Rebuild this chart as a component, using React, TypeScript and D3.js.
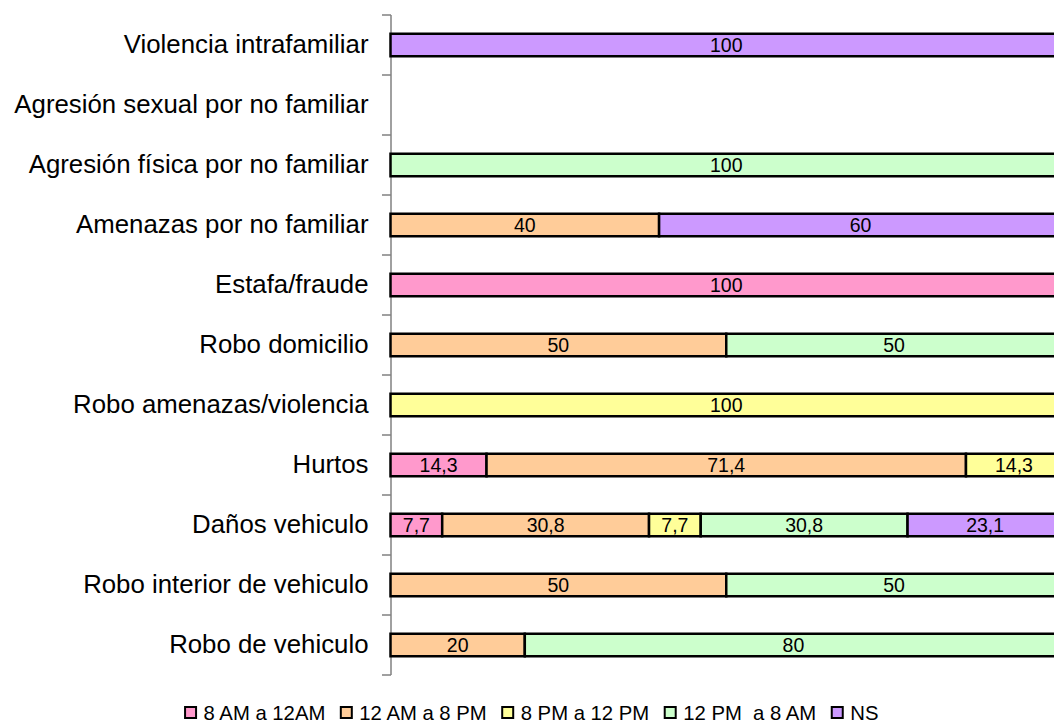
import React, { useEffect, useRef } from "react";
import * as d3 from "d3";

const categories = [
  "Violencia intrafamiliar",
  "Agresión sexual por no familiar",
  "Agresión física por no familiar",
  "Amenazas por no familiar",
  "Estafa/fraude",
  "Robo domicilio",
  "Robo amenazas/violencia",
  "Hurtos",
  "Daños vehiculo",
  "Robo interior de vehiculo",
  "Robo de vehiculo",
];

const seriesNames = ["8 AM a 12AM", "12 AM a 8 PM", "8 PM a 12 PM", "12 PM  a 8 AM", "NS"];
const seriesColors = ["#FF99CC", "#FFCC99", "#FFFF99", "#CCFFCC", "#CC99FF"];

const s8amTo12am = [0, 0, 0, 0, 100, 0, 0, 14.3, 7.7, 0, 0];
const s12amTo8pm = [0, 0, 0, 40, 0, 50, 0, 71.4, 30.8, 50, 20];
const s8pmTo12pm = [0, 0, 0, 0, 0, 0, 100, 14.3, 7.7, 0, 0];
const s12pmTo8am = [0, 0, 100, 0, 0, 50, 0, 0, 30.8, 50, 80];
const sNS = [100, 0, 0, 60, 0, 0, 0, 0, 23.1, 0, 0];

const seriesValues = [s8amTo12am, s12amTo8pm, s8pmTo12pm, s12pmTo8am, sNS];

const W = 1054;
const H = 722;

export default function App() {
  const ref = useRef<SVGSVGElement | null>(null);

  useEffect(() => {
    const svg = d3.select(ref.current);
    svg.selectAll("*").remove();
    const font = "'Liberation Sans', Arial, sans-serif";

    const x = d3.scaleLinear().domain([0, 100]).range([390.5, 1062]);
    const y = d3.scaleBand<string>().domain(categories).range([15, 675]).padding(0);
    const barH = 22.5;

    const rows = categories.map((c, i) => {
      const o: any = { cat: c };
      seriesNames.forEach((s, k) => (o[s] = seriesValues[k][i]));
      return o;
    });
    const stack = d3.stack<any>().keys(seriesNames)(rows);

    // axis line + ticks
    const axisColor = "#808080";
    svg.append("line").attr("x1", 391).attr("x2", 391).attr("y1", 15).attr("y2", 675)
      .attr("stroke", axisColor).attr("stroke-width", 1.5);
    const tickYs = categories.map((c) => y(c)!).concat([675]);
    svg.selectAll("line.tick").data(tickYs).enter().append("line")
      .attr("x1", 382).attr("x2", 391).attr("y1", (d) => d).attr("y2", (d) => d)
      .attr("stroke", axisColor).attr("stroke-width", 1.5);

    // category labels
    svg.selectAll("text.cat").data(categories).enter().append("text")
      .attr("x", 368.5).attr("y", (c) => y(c)! + y.bandwidth() / 2 + 8)
      .attr("text-anchor", "end").attr("font-family", font).attr("font-size", 25.8)
      .attr("fill", "#000").text((c) => c);

    // bars
    stack.forEach((layer, k) => {
      const g = svg.append("g");
      layer.forEach((seg, i) => {
        const v = seg[1] - seg[0];
        if (v <= 0) return;
        const cy = y(categories[i])! + y.bandwidth() / 2;
        g.append("rect")
          .attr("x", x(seg[0])).attr("y", cy - barH / 2)
          .attr("width", x(seg[1]) - x(seg[0])).attr("height", barH)
          .attr("fill", seriesColors[k]).attr("stroke", "#000").attr("stroke-width", 2.5);
        g.append("text")
          .attr("x", (x(seg[0]) + x(seg[1])) / 2).attr("y", cy + 7)
          .attr("text-anchor", "middle").attr("font-family", font).attr("font-size", 19.5)
          .attr("fill", "#000").text(String(v.toFixed(1)).replace(/\.0$/, "").replace(".", ","));
      });
    });

    // legend
    const lg = svg.append("g");
    const items = seriesNames.map((name, k) => {
      const gi = lg.append("g");
      gi.append("rect").attr("x", 0.5).attr("y", 707).attr("width", 11).attr("height", 11)
        .attr("fill", seriesColors[k]).attr("stroke", "#000").attr("stroke-width", 2);
      const t = gi.append("text").attr("x", 19).attr("y", 719.5)
        .attr("font-family", font).attr("font-size", 20.3).attr("fill", "#000")
        .style("white-space", "pre").text(name);
      const w = (t.node() as SVGTextElement).getComputedTextLength();
      return { gi, w: 19 + w };
    });
    const gap = 15;
    const total = d3.sum(items, (d) => d.w) + gap * (items.length - 1);
    let cx = 531.5 - total / 2;
    items.forEach((it) => {
      it.gi.attr("transform", `translate(${cx},0)`);
      cx += it.w + gap;
    });
  }, []);

  return (
    <svg
      ref={ref}
      width={W}
      height={H}
      style={{ position: "absolute", left: 0, top: 0, background: "#fff", display: "block" }}
    />
  );
}
